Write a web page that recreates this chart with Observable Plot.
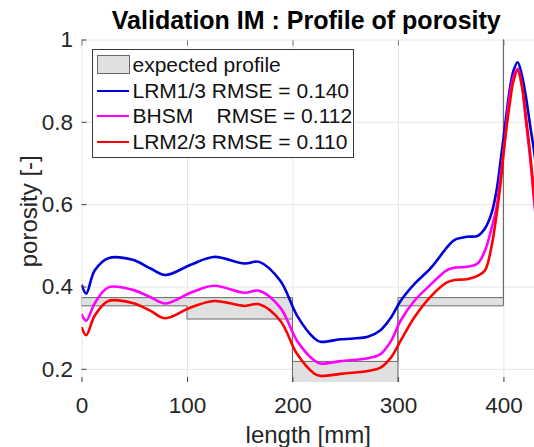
<!DOCTYPE html>
<html>
<head>
<meta charset="utf-8">
<script src="https://cdn.jsdelivr.net/npm/d3@7"></script>
<script src="https://cdn.jsdelivr.net/npm/@observablehq/plot@0.6"></script>
<style>
  html, body { margin: 0; padding: 0; background: #fff; }
  #wrap { position: relative; width: 534px; height: 447px; overflow: hidden; font-family: "Liberation Sans", Arial, Helvetica, sans-serif; }
  #legend { position: absolute; left: 91.5px; top: 49px; width: 260px; height: 105px; border: 1px solid #3a3a3a; background: #fff; box-sizing: content-box; padding-top: 2px; }
  .row { position: relative; height: 25.5px; line-height: 25.5px; font-size: 21px; color: #111; white-space: pre; }
  .row .lbl { position: absolute; left: 40px; top: 0; }
  .row .ln { position: absolute; left: 4px; width: 32px; top: 12px; height: 0; border-top: 2.5px solid; }
  .row .patch { position: absolute; left: 4px; width: 31px; top: 3px; height: 17px; background: #e0e0e0; border: 1px solid #6a6a6a; }
</style>
</head>
<body>
<div id="wrap"></div>
<script>
// ---- data ----
const titleText = "Validation IM : Profile of porosity";
const xLabel = "length [mm]";
const yLabel = "porosity [-]";
const xTicks = [0, 100, 200, 300, 400];
const yTicks = [0.2, 0.4, 0.6, 0.8, 1];
const xDomain = [0, 429];
const yDomain = [0.168, 1.0];

// expected profile (step bands: lower / upper bound per segment start)
const profileX  = [0, 100, 200, 300, 400, 460];
const profileLo = [0.353, 0.321, 0.12, 0.353, 1.05, 1.05];
const profileHi = [0.373, 0.373, 0.218, 0.373, 1.10, 1.10];
const profileLabel = "expected profile";

// model curves
const xs    = [0, 4, 12, 25, 48, 65, 79, 103, 125, 154, 168, 188, 204, 220, 226, 245, 271, 283, 293, 302, 315, 331, 346, 353, 365, 375, 382, 388, 393, 397, 401, 405, 409, 413, 417, 421, 425, 429, 433];
const lrm13 = [0.403, 0.384, 0.44, 0.470, 0.466, 0.445, 0.429, 0.454, 0.473, 0.457, 0.461, 0.415, 0.330, 0.276, 0.267, 0.273, 0.279, 0.295, 0.326, 0.366, 0.407, 0.447, 0.496, 0.514, 0.522, 0.524, 0.542, 0.577, 0.634, 0.71, 0.79, 0.87, 0.925, 0.946, 0.915, 0.86, 0.79, 0.723, 0.64];
const bhsm  = [0.332, 0.318, 0.36, 0.399, 0.393, 0.375, 0.360, 0.386, 0.403, 0.386, 0.391, 0.350, 0.269, 0.222, 0.214, 0.220, 0.227, 0.237, 0.269, 0.318, 0.366, 0.407, 0.441, 0.447, 0.449, 0.457, 0.488, 0.540, 0.593, 0.672, 0.757, 0.855, 0.91, 0.930, 0.89, 0.80, 0.71, 0.60, 0.50];
const lrm23 = [0.300, 0.283, 0.33, 0.366, 0.361, 0.342, 0.324, 0.350, 0.366, 0.354, 0.358, 0.318, 0.237, 0.190, 0.184, 0.189, 0.196, 0.204, 0.229, 0.269, 0.326, 0.378, 0.411, 0.417, 0.419, 0.427, 0.440, 0.495, 0.575, 0.655, 0.757, 0.835, 0.90, 0.926, 0.89, 0.81, 0.72, 0.61, 0.50];

const seriesNames = ["LRM1/3", "BHSM", "LRM2/3"];
const seriesLegend = ["LRM1/3 RMSE = 0.140", "BHSM    RMSE = 0.112", "LRM2/3 RMSE = 0.110"];
const seriesColors = ["#0000d8", "#ff00ff", "#ff0000"];
const seriesValues = [lrm13, bhsm, lrm23];

// ---- build tables ----
const profile = profileX.map((x, i) => ({x, lo: profileLo[i], hi: profileHi[i]}));
const series = seriesValues.map((vals, k) => xs.map((x, i) => ({x, y: vals[i], s: seriesNames[k]})));

const font = "Liberation Sans, Arial, Helvetica, sans-serif";

const chart = Plot.plot({
  width: 534,
  height: 447,
  marginTop: 39.5,
  marginBottom: 65,
  marginLeft: 81.5,
  marginRight: 0,
  style: {fontFamily: font, fontSize: "22.5px", color: "#262626", background: "#fff"},
  x: {domain: xDomain},
  y: {domain: yDomain},
  marks: [
    Plot.gridX({ticks: xTicks, stroke: "#e6e6e6", strokeOpacity: 1}),
    Plot.gridY({ticks: yTicks, stroke: "#e6e6e6", strokeOpacity: 1}),
    Plot.areaY(profile, {x: "x", y1: "lo", y2: "hi", curve: "step-after", fill: "#e0e0e0", stroke: "#6a6a6a", strokeWidth: 1, clip: true}),
    ...series.map((rows, k) => Plot.line(rows, {x: "x", y: "y", stroke: seriesColors[k], strokeWidth: 2.6, curve: "catmull-rom", clip: true})),
    Plot.axisX({ticks: xTicks, tickSize: 0, tickPadding: 15, label: null, tickFormat: d => String(d), fontSize: 22.5}),
    Plot.axisX({ticks: xTicks, tickSize: -5, tickFormat: () => "", label: null, line: true, stroke: "#444"}),
    Plot.axisX({anchor: "top", ticks: xTicks, tickSize: -5, tickFormat: () => "", label: null, line: true, stroke: "#777"}),
    Plot.axisY({ticks: yTicks, tickSize: 0, tickPadding: 9, label: null, tickFormat: d => String(d), fontSize: 22.5}),
    Plot.axisY({ticks: yTicks, tickSize: -5, tickFormat: () => "", label: null, line: true, stroke: "#444"}),
    Plot.text([xLabel], {frameAnchor: "bottom", lineAnchor: "bottom", dy: 60, fontSize: 24, fill: "#262626"}),
    Plot.text([yLabel], {frameAnchor: "left", textAnchor: "middle", lineAnchor: "middle", dx: -53, rotate: -90, fontSize: 24, fill: "#262626"}),
    Plot.text([titleText], {frameAnchor: "top", textAnchor: "middle", lineAnchor: "bottom", dx: -2, dy: -11, fontSize: 25, fontWeight: "bold", fill: "#000"})
  ]
});

const wrap = document.getElementById("wrap");
wrap.appendChild(chart);

// legend overlay
const legend = document.createElement("div");
legend.id = "legend";
const r0 = document.createElement("div");
r0.className = "row";
r0.innerHTML = '<span class="patch"></span>';
const l0 = document.createElement("span"); l0.className = "lbl"; l0.textContent = profileLabel; r0.appendChild(l0);
legend.appendChild(r0);
seriesLegend.forEach((t, k) => {
  const r = document.createElement("div");
  r.className = "row";
  const ln = document.createElement("span"); ln.className = "ln"; ln.style.borderTopColor = seriesColors[k];
  const lb = document.createElement("span"); lb.className = "lbl"; lb.textContent = t;
  r.appendChild(ln); r.appendChild(lb);
  legend.appendChild(r);
});
wrap.appendChild(legend);
</script>
</body>
</html>
